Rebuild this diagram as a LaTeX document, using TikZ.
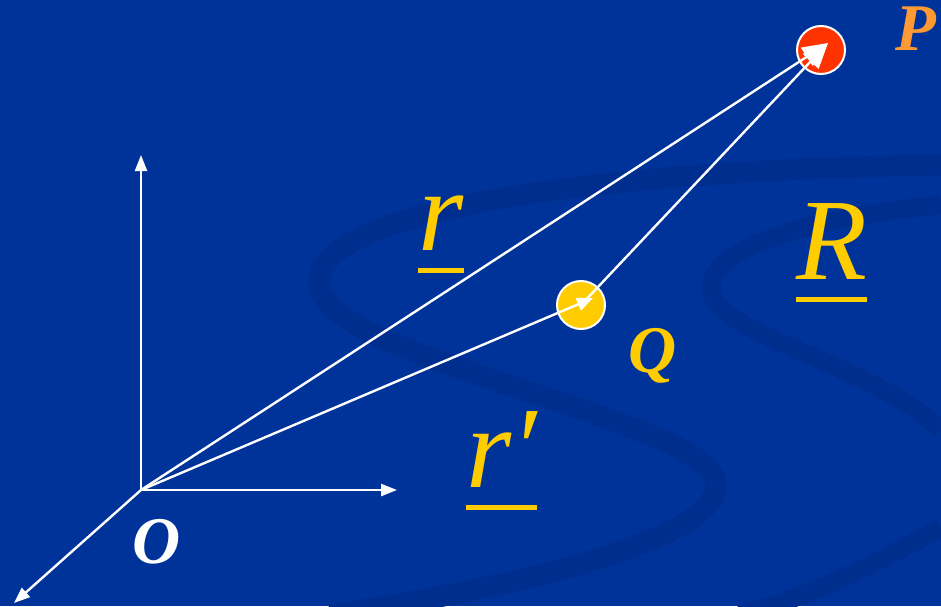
\documentclass[tikz,border=0pt]{standalone}
\usepackage{fontspec}
\setmainfont{Liberation Serif}
\usetikzlibrary{arrows.meta}
\definecolor{slidebg}{RGB}{0,51,153}
\definecolor{swirl}{RGB}{0,46,142}
\definecolor{gold}{RGB}{255,204,0}
\definecolor{pred}{RGB}{255,51,0}
\definecolor{porange}{RGB}{255,153,51}
\begin{document}
\begin{tikzpicture}[
  x=0.75pt, y=-0.75pt,
  axis/.style={white, line width=1.8pt, -{Triangle[length=12pt,width=9pt]}},
  arrow/.style={white, line width=1.8pt, -{Triangle[length=12pt,width=10pt]}},
  bighead/.style={-{Triangle[length=19pt,width=16pt]}},
  charge/.style={circle, draw=white, line width=1.5pt, minimum size=36pt, inner sep=0pt},
  sym/.style={gold, font=\fontsize{87}{90}\selectfont\itshape, inner sep=0pt, anchor=base west},
  tag/.style={font=\fontsize{50}{54}\selectfont\bfseries\itshape, inner sep=0pt, anchor=base west},
  bar/.style={gold, line width=3.75pt}
]
\fill[slidebg] (0,0) rectangle (941,606);
\useasboundingbox (0,0) rectangle (941,606);
% faint swirl in the background
\draw[swirl, line width=16pt] (941,165) .. controls (600,170) and (300,210) .. (320,290)
  .. controls (340,360) and (700,420) .. (715,480) .. controls (730,540) and (500,590) .. (330,615);
\draw[swirl, line width=14pt] (941,205) .. controls (780,220) and (690,260) .. (715,300)
  .. controls (740,340) and (880,370) .. (941,430);
\draw[swirl, line width=14pt] (941,528) .. controls (880,560) and (830,590) .. (740,615);

\coordinate (O) at (141,490);
\coordinate (yend) at (141,155);
\coordinate (xend) at (397,490);
\coordinate (zend) at (14,603);
\coordinate (Ptip) at (828,43);
\coordinate (Qtip) at (593,298);

\node[charge, fill=pred] (P) at (821,50) {};
\node[charge, fill=gold] (Q) at (581,305) {};

\draw[axis] (O) -- (yend);
\draw[axis] (O) -- (xend);
\draw[axis] (O) -- (zend);
\draw[arrow] (O) -- (Qtip);
\draw[arrow, bighead] (Q.center) -- (Ptip);
\draw[arrow, bighead] (O) -- (Ptip);

\node[sym] (rlab) at (418,250) {r};
\node[sym] (rplab) at (466,487) {r′};
\node[sym] (Rlab) at (796,279) {R};
\draw[bar] ([yshift=-15pt]rlab.base west) -- ([yshift=-15pt]rlab.base east);
\draw[bar] ([yshift=-15pt]rplab.base west) -- ([yshift=-15pt]rplab.base east);
\draw[bar] ([yshift=-15pt]Rlab.base west) -- ([yshift=-15pt]Rlab.base east);

\node[tag, porange] (Plab) at (895,51) {P};
\node[tag, gold] (Qlab) at (628,372) {Q};
\node[tag, white] (Olab) at (132,563) {O};
\end{tikzpicture}
\end{document}
